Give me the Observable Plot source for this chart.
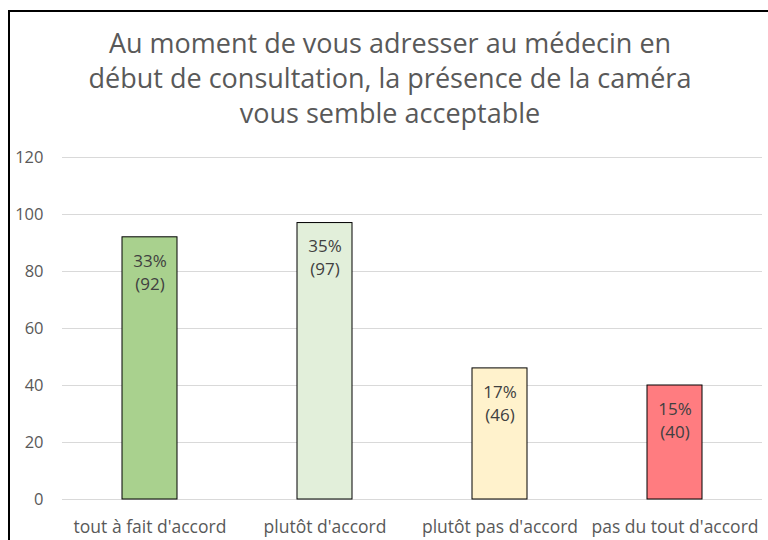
<!DOCTYPE html>
<html>
<head>
<meta charset="utf-8">
<script src="https://cdn.jsdelivr.net/npm/d3@7"></script>
<script src="https://cdn.jsdelivr.net/npm/@observablehq/plot@0.6"></script>
<style>
  html, body { margin: 0; padding: 0; width: 768px; height: 540px; overflow: hidden; background: #fff; }
  #frame { position: absolute; left: 8px; top: 10px; width: 800px; height: 600px; border: 2px solid #000; box-sizing: border-box; }
  #title { position: absolute; left: 0; top: 25px; width: 780px; text-align: center; font-family: "Open Sans", sans-serif; font-size: 27px; line-height: 35px; color: #595959; }
  #chart { position: absolute; left: 0; top: 130px; width: 768px; }
</style>
</head>
<body>
<div id="frame"></div>
<div id="title">Au moment de vous adresser au médecin en<br>début de consultation, la présence de la caméra<br>vous semble acceptable</div>
<div id="chart"></div>
<script>
const categories = ["tout à fait d'accord", "plutôt d'accord", "plutôt pas d'accord", "pas du tout d'accord"];
const counts = [92, 97, 46, 40];
const percents = ["33%", "35%", "17%", "15%"];
const yTicks = [0, 20, 40, 60, 80, 100, 120];
const barColors = ["#a9d18e", "#e2efda", "#fff2cc", "#ff7c80"];

const data = categories.map((c, i) => ({cat: c, n: counts[i], label: `${percents[i]}\n(${counts[i]})`}));

const chart = Plot.plot({
  width: 768,
  height: 410,
  marginTop: 27,
  marginBottom: 41,
  marginLeft: 62,
  marginRight: 6,
  style: {fontFamily: "'Open Sans', sans-serif", fontSize: "16px", color: "#595959", background: "transparent"},
  x: {domain: categories, paddingInner: 0.686, paddingOuter: 0.343, label: null},
  y: {domain: [0, 120], ticks: yTicks, label: null},
  color: {domain: categories, range: barColors},
  marks: [
    Plot.gridY(yTicks, {stroke: "#d9d9d9", strokeOpacity: 1, strokeWidth: 1}),
    Plot.barY(data, {x: "cat", y: "n", fill: "cat", stroke: "#000", strokeWidth: 1}),
    Plot.text(data, {x: "cat", y: "n", text: "label", lineAnchor: "top", dy: 13, lineHeight: 1.35, fill: "#404040", fontSize: 17}),
    Plot.axisX({tickSize: 0, tickPadding: 21, fontSize: 17.5, fill: "#595959"}),
    Plot.axisY({ticks: yTicks, tickSize: 0, tickPadding: 19, fontSize: 16.5, fill: "#595959"})
  ]
});
document.getElementById("chart").append(chart);
</script>
</body>
</html>
